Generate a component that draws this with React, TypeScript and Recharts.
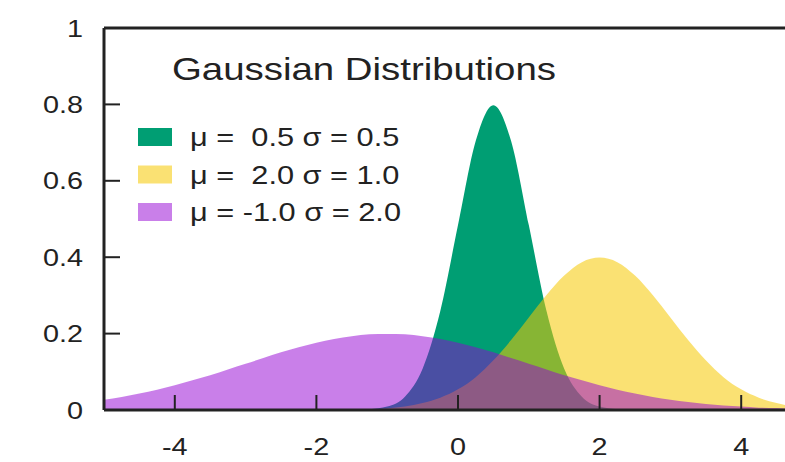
import { AreaChart, Area, XAxis, YAxis, ReferenceLine, Legend } from "recharts";

// x positions read along the horizontal axis
const xValues = [
  -5, -4.75, -4.5, -4.25, -4, -3.75, -3.5, -3.25, -3, -2.75, -2.5, -2.25, -2, -1.75, -1.5, -1.25, -1, -0.75, -0.5, -0.25,
  0, 0.25, 0.5, 0.75, 1, 1.25, 1.5, 1.75, 2, 2.25, 2.5, 2.75, 3, 3.25, 3.5, 3.75, 4, 4.25, 4.5, 4.75, 5,
];

// μ = 0.5, σ = 0.5
const greenValues = [
  0, 0, 0, 0, 0, 0, 0, 0, 0, 0, 0, 0, 0, 0, 0, 0.002, 0.009, 0.035, 0.108, 0.259,
  0.484, 0.704, 0.798, 0.704, 0.484, 0.259, 0.108, 0.035, 0.009, 0.002, 0, 0, 0, 0, 0, 0, 0, 0, 0, 0, 0,
];

// μ = 2.0, σ = 1.0
const yellowValues = [
  0, 0, 0, 0, 0, 0, 0, 0, 0, 0, 0, 0, 0, 0, 0.001, 0.002, 0.004, 0.009, 0.018, 0.032,
  0.054, 0.086, 0.13, 0.183, 0.242, 0.301, 0.352, 0.387, 0.399, 0.387, 0.352, 0.301, 0.242, 0.183, 0.13, 0.086, 0.054, 0.032, 0.018, 0.009, 0.004,
];

// μ = -1.0, σ = 2.0
const purpleValues = [
  0.027, 0.034, 0.043, 0.053, 0.065, 0.078, 0.091, 0.106, 0.121, 0.136, 0.151, 0.164, 0.176, 0.186, 0.193, 0.198, 0.199, 0.198, 0.193, 0.186,
  0.176, 0.164, 0.151, 0.136, 0.121, 0.106, 0.091, 0.078, 0.065, 0.053, 0.043, 0.034, 0.027, 0.021, 0.016, 0.012, 0.009, 0.006, 0.005, 0.003, 0.002,
];

const xTicks = [-4, -2, 0, 2, 4];
const yTicks = [0, 0.2, 0.4, 0.6, 0.8, 1];

const chartTitle = "Gaussian Distributions";
const seriesLabels = ["μ =  0.5 σ = 0.5", "μ =  2.0 σ = 1.0", "μ = -1.0 σ = 2.0"];

const series = [
  { key: "g", fill: "#009E73", opacity: 1 },
  { key: "y", fill: "#F5C800", opacity: 0.55 },
  { key: "p", fill: "#9400D3", opacity: 0.5 },
];

const data = xValues.map((x, i) => ({ x, g: greenValues[i], y: yellowValues[i], p: purpleValues[i] }));

const FONT = "'Liberation Sans', Arial, sans-serif";
const INK = "#222";

function XTick(props: any) {
  const { x, y, payload } = props;
  return (
    <g>
      <line x1={x} y1={y} x2={x} y2={y - 15} stroke={INK} strokeWidth={2} />
      <text transform={`translate(${x},${y + 45}) scale(1.2,1)`} textAnchor="middle" fontSize={24} fontFamily={FONT} fill={INK}>
        {payload.value}
      </text>
    </g>
  );
}

function YTick(props: any) {
  const { x, y, payload } = props;
  return (
    <g>
      <line x1={x} y1={y} x2={x + 16} y2={y} stroke={INK} strokeWidth={2} />
      <text transform={`translate(${x - 21},${y + 8.5}) scale(1.2,1)`} textAnchor="end" fontSize={24} fontFamily={FONT} fill={INK}>
        {payload.value}
      </text>
    </g>
  );
}

function KeyBox() {
  return (
    <svg width={600} height={240} style={{ display: "block", overflow: "visible" }}>
      <text transform="translate(364,80) scale(1.2,1)" textAnchor="middle" fontSize={32} fontFamily={FONT} fill={INK}>
        {chartTitle}
      </text>
      {series.map((s, i) => (
        <g key={s.key}>
          <rect x={138} y={128 + i * 37.5} width={34} height={18} fill={s.fill} fillOpacity={s.opacity} />
          <text
            transform={`translate(190,${146 + i * 37.5}) scale(1.23,1)`}
            fontSize={25}
            fontFamily={FONT}
            fill={INK}
            style={{ whiteSpace: "pre" }}
          >
            {seriesLabels[i]}
          </text>
        </g>
      ))}
    </svg>
  );
}

export default function App() {
  return (
    <div style={{ position: "fixed", left: 0, top: 0, width: 785, height: 462, overflow: "hidden", background: "#fff" }}>
      <AreaChart width={830} height={462} data={data} margin={{ top: 28, right: 18, bottom: 22, left: 44 }}>
        <XAxis
          dataKey="x"
          type="number"
          domain={[-5, 5]}
          ticks={xTicks}
          height={30}
          tickSize={0}
          tickMargin={0}
          tickLine={false}
          tick={<XTick />}
          axisLine={{ stroke: INK, strokeWidth: 3 }}
          allowDataOverflow
        />
        <YAxis
          type="number"
          domain={[0, 1]}
          ticks={yTicks}
          width={60}
          tickSize={0}
          tickMargin={0}
          tickLine={false}
          tick={<YTick />}
          axisLine={{ stroke: INK, strokeWidth: 3 }}
          allowDataOverflow
        />
        <ReferenceLine y={1} stroke={INK} strokeWidth={3} />
        {series.map((s) => (
          <Area
            key={s.key}
            dataKey={s.key}
            type="monotone"
            stroke="none"
            fill={s.fill}
            fillOpacity={s.opacity}
            isAnimationActive={false}
            dot={false}
            activeDot={false}
          />
        ))}
        <Legend
          layout="vertical"
          align="center"
          verticalAlign="middle"
          content={<KeyBox />}
          wrapperStyle={{ left: 0, top: 0, width: 600, height: 240 }}
        />
      </AreaChart>
    </div>
  );
}
